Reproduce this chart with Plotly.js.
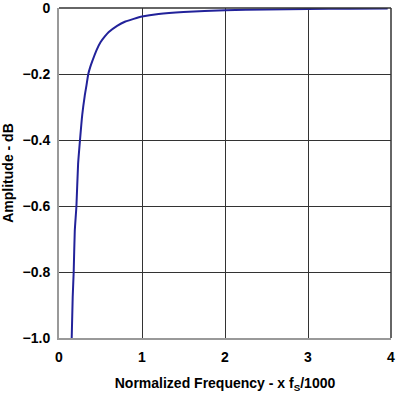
<!DOCTYPE html>
<html>
<head>
<meta charset="utf-8">
<script src="https://cdn.plot.ly/plotly-3.0.1.min.js"></script>
<style>html,body{margin:0;padding:0;background:#fff;}#chart{width:410px;height:397px;}</style>
</head>
<body>
<div id="chart"></div>
<script>
var freq = [0.153, 0.165, 0.177, 0.19, 0.21, 0.23, 0.253, 0.28, 0.31, 0.33, 0.353, 0.375, 0.4, 0.45, 0.5, 0.55, 0.6, 0.7, 0.8, 0.9, 1.0, 1.2, 1.5, 2.0, 2.5, 3.0, 3.5, 3.96];
var ampl = [-1.0, -0.876, -0.8, -0.676, -0.6, -0.473, -0.4, -0.324, -0.266, -0.236, -0.2, -0.18, -0.162, -0.129, -0.104, -0.087, -0.073, -0.054, -0.041, -0.033, -0.026, -0.018, -0.012, -0.007, -0.0045, -0.003, -0.0022, -0.0018];
var xTicks = [0, 1, 2, 3, 4];
var xTickText = ['0', '1', '2', '3', '4'];
var yTicks = [-1.0, -0.8, -0.6, -0.4, -0.2, 0];
var yTickText = ['\u22121.0', '\u22120.8', '\u22120.6', '\u22120.4', '\u22120.2', '0'];

var fam = 'Liberation Sans, Arial, sans-serif';
Plotly.newPlot('chart', [{
  x: freq, y: ampl, type: 'scatter', mode: 'lines',
  line: {color: '#22229a', width: 2, shape: 'spline', smoothing: 0.5},
  hoverinfo: 'none'
}], {
  width: 410, height: 397,
  margin: {l: 59, r: 19, t: 8, b: 59},
  paper_bgcolor: '#fff', plot_bgcolor: '#fff',
  showlegend: false,
  font: {family: fam, size: 14, color: '#000'},
  xaxis: {
    range: [0, 4], tickvals: xTicks, ticktext: xTickText,
    showgrid: true, gridcolor: '#333', gridwidth: 1,
    zeroline: false, showline: true, linecolor: '#999', linewidth: 2,
    ticks: '', ticklen: 0, ticklabelstandoff: 5, ticklabeloverflow: 'allow',
    tickfont: {family: fam, size: 14, color: '#000', weight: 'bold'},
    title: {text: '<b>Normalized Frequency - x f<sub>S</sub>/1000</b>', font: {family: fam, size: 14, color: '#000'}, standoff: 14}
  },
  yaxis: {
    range: [-1, 0], tickvals: yTicks, ticktext: yTickText,
    showgrid: true, gridcolor: '#333', gridwidth: 1,
    zeroline: false, showline: true, linecolor: '#999', linewidth: 2,
    ticks: '', ticklen: 0, ticklabelstandoff: 4, ticklabeloverflow: 'allow',
    tickfont: {family: fam, size: 14, color: '#000', weight: 'bold'},
    title: {text: '<b>Amplitude - dB</b>', font: {family: fam, size: 14, color: '#000'}, standoff: 8}
  },
  shapes: [
    {type: 'line', xref: 'paper', yref: 'paper', x0: 0, x1: 1, y0: 1, y1: 1, line: {color: '#333', width: 1.5}},
    {type: 'line', xref: 'paper', yref: 'paper', x0: 1, x1: 1, y0: 0, y1: 1, line: {color: '#333', width: 1.5}}
  ]
}, {staticPlot: true, displayModeBar: false});
</script>
</body>
</html>
